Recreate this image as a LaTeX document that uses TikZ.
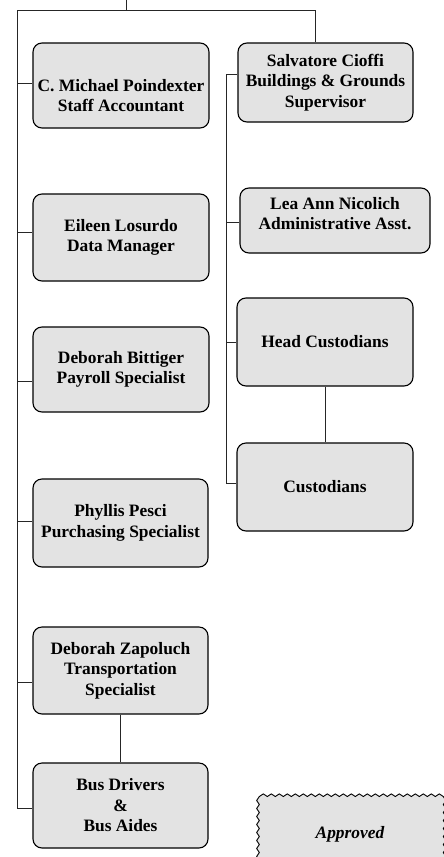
\documentclass[tikz,border=0pt]{standalone}
\usepackage{fontspec}
\setmainfont{Liberation Serif}
\usetikzlibrary{decorations.pathmorphing}
\definecolor{boxfill}{gray}{0.89}
\begin{document}
\begin{tikzpicture}[x=1pt,y=-1pt,
  box/.style={draw=black, line width=1.1pt, rounded corners=9pt, fill=boxfill,
    align=center, inner sep=1pt, font=\fontsize{17.4}{20.5}\selectfont\bfseries},
  boxtext/.style={font=\fontsize{17.4}{20.5}\selectfont\bfseries, align=center},
  conn/.style={draw=black!85, line width=0.9pt}]
\useasboundingbox[fill=white] (0,0) rectangle (444,857);

% left column
\node[box, minimum width=176pt, minimum height=85pt,
  label={[boxtext, yshift=-10pt]center:{C. Michael Poindexter\\Staff Accountant}}] (mic) at (121,85.5) {};
\node[box, minimum width=176pt, minimum height=87pt] (eil) at (121,237.5) {Eileen Losurdo\\Data Manager};
\node[box, minimum width=176pt, minimum height=85pt] (bit) at (121,369.5) {Deborah Bittiger\\Payroll Specialist};
\node[box, minimum width=175pt, minimum height=88pt] (phy) at (120.5,523) {Phyllis Pesci\\Purchasing Specialist};
\node[box, minimum width=175pt, minimum height=87pt] (zap) at (120.5,670.5) {Deborah Zapoluch\\Transportation\\Specialist};
\node[box, minimum width=175pt, minimum height=85pt] (bus) at (120.5,805.5) {Bus Drivers\\\&\\Bus Aides};

% right column
\node[box, minimum width=175pt, minimum height=79pt] (sal) at (325.5,82.5) {Salvatore Cioffi\\Buildings \& Grounds\\Supervisor};
\node[box, minimum width=190pt, minimum height=65pt,
  label={[boxtext, yshift=7pt]center:{Lea Ann Nicolich\\Administrative Asst.}}] (lea) at (335,220.5) {};
\node[box, minimum width=176pt, minimum height=88pt] (head) at (325,342) {Head Custodians};
\node[box, minimum width=176pt, minimum height=88pt] (cust) at (325,487) {Custodians};

% connector points
\coordinate (top) at (126,0);
\coordinate (tj) at (126,10);
\coordinate (lt) at (17,10);
\coordinate (rt) at (315,10);
\coordinate (lb) at (17,808);
\coordinate (l1) at (17,83);
\coordinate (l2) at (17,232);
\coordinate (l3) at (17,381);
\coordinate (l4) at (17,521);
\coordinate (l5) at (17,682);
\coordinate (r0) at (226,74);
\coordinate (r1) at (226,222);
\coordinate (r2) at (226,342);
\coordinate (r3) at (226,483);

\draw[conn] (top) -- (tj);
\draw[conn] (lt) -- (rt) -- (rt |- sal.north);
\draw[conn] (lt) -- (lb) -- (lb -| bus.west);
\draw[conn] (l1) -- (l1 -| mic.west);
\draw[conn] (l2) -- (l2 -| eil.west);
\draw[conn] (l3) -- (l3 -| bit.west);
\draw[conn] (l4) -- (l4 -| phy.west);
\draw[conn] (l5) -- (l5 -| zap.west);
\draw[conn] (r0 -| sal.west) -- (r0) -- (r3) -- (r3 -| cust.west);
\draw[conn] (r1) -- (r1 -| lea.west);
\draw[conn] (r2) -- (r2 -| head.west);
\draw[conn] (head.south) -- (cust.north);
\draw[conn] (zap.south) -- (bus.north);

% approved stamp
\begin{scope}
\clip (0,0) rectangle (444,857);
\draw[fill=boxfill, line width=0.9pt, decorate,
  decoration={snake, amplitude=1.3pt, segment length=8pt}]
  (258,875) -- (258,799) -- (442,799) -- (442,875);
\end{scope}
\node[font=\fontsize{17.4}{20}\selectfont\bfseries\itshape] (appr) at (350,834) {Approved};
\end{tikzpicture}
\end{document}
